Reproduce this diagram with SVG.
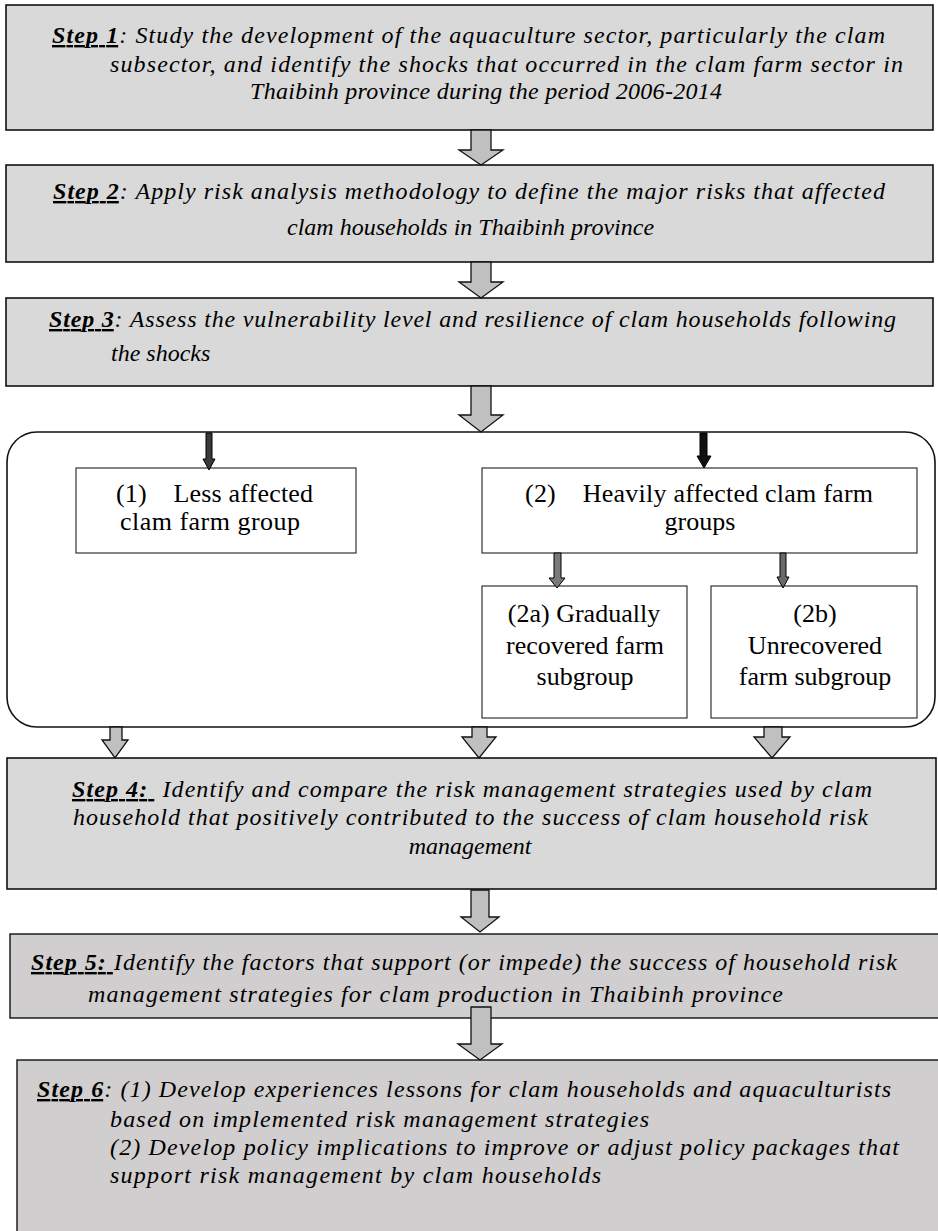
<svg xmlns="http://www.w3.org/2000/svg" width="938" height="1231" viewBox="0 0 938 1231" font-family="'Liberation Serif', 'Times New Roman', serif">
  <style>
    .step { fill: #d9d9d9; stroke: #111; stroke-width: 1.6; }
    .step2 { fill: #d0cece; stroke: #111; stroke-width: 1.4; }
    .frame { fill: #fff; stroke: #111; stroke-width: 1.6; }
    .box { fill: #fff; stroke: #333; stroke-width: 1.2; }
    .st { font-style: italic; font-size: 24px; fill: #000; }
    .lb { font-weight: bold; text-decoration: underline; }
    .gt { font-size: 26px; fill: #000; }
    .big { fill: #c0c0c0; stroke: #111; stroke-width: 1.3; stroke-linejoin: miter; }
    .thin { stroke: #000; stroke-width: 1; }
  </style>

  <!-- Step 1 -->
  <g id="step1">
    <rect class="step" x="6" y="5" width="927" height="125"/>
    <text class="st" font-family="Liberation Serif" xml:space="preserve" x="52" y="43" textLength="833"><tspan class="lb">Step 1</tspan>: Study the development of the aquaculture sector, particularly the clam</text>
    <text class="st" font-family="Liberation Serif" xml:space="preserve" x="110" y="72" textLength="793">subsector, and identify the shocks that occurred in the clam farm sector in</text>
    <text class="st" font-family="Liberation Serif" xml:space="preserve" x="250" y="99" textLength="472">Thaibinh province during the period 2006-2014</text>
  </g>

  <!-- Step 2 -->
  <g id="step2">
    <rect class="step" x="6" y="165" width="927" height="97"/>
    <text class="st" font-family="Liberation Serif" xml:space="preserve" x="53" y="199" textLength="832"><tspan class="lb">Step 2</tspan>: Apply risk analysis methodology to define the major risks that affected</text>
    <text class="st" font-family="Liberation Serif" xml:space="preserve" x="287" y="235">clam households in Thaibinh province</text>
  </g>

  <!-- Step 3 -->
  <g id="step3">
    <rect class="step" x="6" y="298" width="927" height="88"/>
    <text class="st" font-family="Liberation Serif" xml:space="preserve" x="49" y="327" textLength="847"><tspan class="lb">Step 3</tspan>: Assess the vulnerability level and resilience of clam households following</text>
    <text class="st" font-family="Liberation Serif" xml:space="preserve" x="111" y="361">the shocks</text>
  </g>

  <!-- Grouping of affected clam farms -->
  <g id="groups">
    <rect class="frame" x="7" y="432" width="928" height="295" rx="30" ry="30"/>
  </g>

  <g id="group1" font-family="Liberation Serif">
    <rect class="box" x="76" y="468" width="280" height="85"/>
    <text class="gt" xml:space="preserve" x="116" y="502" textLength="197">(1)    Less affected</text>
    <text class="gt" xml:space="preserve" x="120" y="530" textLength="180">clam farm group</text>
  </g>

  <g id="group2" font-family="Liberation Serif">
    <rect class="box" x="482" y="468" width="435" height="85"/>
    <text class="gt" xml:space="preserve" x="525" y="502" textLength="348">(2)    Heavily affected clam farm</text>
    <text class="gt" x="700" y="530" text-anchor="middle">groups</text>
  </g>

  <g id="group2a" font-family="Liberation Serif">
    <rect class="box" x="482" y="586" width="205" height="132"/>
    <text class="gt" x="584" y="622" text-anchor="middle">(2a) Gradually</text>
    <text class="gt" x="585" y="654" text-anchor="middle">recovered farm</text>
    <text class="gt" x="585" y="685" text-anchor="middle">subgroup</text>
  </g>

  <g id="group2b" font-family="Liberation Serif">
    <rect class="box" x="711" y="586" width="206" height="132"/>
    <text class="gt" x="815" y="622" text-anchor="middle">(2b)</text>
    <text class="gt" x="815" y="654" text-anchor="middle">Unrecovered</text>
    <text class="gt" x="815" y="685" text-anchor="middle">farm subgroup</text>
  </g>

  <!-- Step 4 -->
  <g id="step4" font-family="Liberation Serif">
    <rect class="step" x="7" y="758" width="929" height="131"/>
    <text class="st" xml:space="preserve" x="72" y="797" textLength="800"><tspan class="lb">Step 4: </tspan> Identify and compare the risk management strategies used by clam</text>
    <text class="st" xml:space="preserve" x="73" y="825" textLength="795">household that positively contributed to the success of clam household risk</text>
    <text class="st" x="470" y="854" text-anchor="middle">management</text>
  </g>

  <!-- Step 5 -->
  <g id="step5" font-family="Liberation Serif">
    <rect class="step2" x="10" y="934" width="935" height="84"/>
    <text class="st" xml:space="preserve" x="31" y="970" textLength="866"><tspan class="lb">Step 5: </tspan>Identify the factors that support (or impede) the success of household risk</text>
    <text class="st" xml:space="preserve" x="88" y="1002" textLength="695">management strategies for clam production in Thaibinh province</text>
  </g>

  <!-- Step 6 -->
  <g id="step6" font-family="Liberation Serif">
    <rect class="step2" x="17" y="1060" width="930" height="180"/>
    <text class="st" xml:space="preserve" x="37" y="1097" textLength="854"><tspan class="lb">Step 6</tspan>: (1) Develop experiences lessons for clam households and aquaculturists</text>
    <text class="st" xml:space="preserve" x="110" y="1127" textLength="539">based on implemented risk management strategies</text>
    <text class="st" xml:space="preserve" x="110" y="1155" textLength="789">(2) Develop policy implications to improve or adjust policy packages that</text>
    <text class="st" xml:space="preserve" x="110" y="1183" textLength="491">support risk management by clam households</text>
  </g>

  <!-- Connectors -->
  <g id="connectors">
    <!-- hollow block arrows between steps -->
    <polygon class="big" points="471,130 491,130 491,150 503,150 481,165 459,150 471,150"/>
    <polygon class="big" points="471,262 491,262 491,282 503,282 481,298 459,282 471,282"/>
    <polygon class="big" points="471,386 491,386 491,415 503,415 481,432 459,415 471,415"/>
    <!-- from the grouping frame into Step 4 -->
    <polygon class="big" points="110,727 122,727 122,740 128,740 115,758 102,740 110,740"/>
    <polygon class="big" points="472,727 487,727 487,737 496,737 479,758 462,737 472,737"/>
    <polygon class="big" points="764,727 782,727 782,737 790,737 772,758 754,737 764,737"/>
    <polygon class="big" points="471,890 489,890 489,917 499,917 480,932 461,917 471,917"/>
    <polygon class="big" points="471,1007 491,1007 491,1044 502,1044 480,1060 458,1044 471,1044"/>
    <!-- narrow arrows inside the frame -->
    <polygon class="thin" fill="#3a3a3a" points="206,433 212,433 212,459 215,459 209,470 203,459 206,459"/>
    <polygon class="thin" fill="#111" points="700,433 707,433 707,456 711,456 704,468 697,456 700,456"/>
    <polygon class="thin" fill="#7a7a7a" points="554,553 561,553 561,578 565,578 557,588 549,578 554,578"/>
    <polygon class="thin" fill="#6a6a6a" points="780,553 786,553 786,577 789,577 783,588 777,577 780,577"/>
  </g>
</svg>
